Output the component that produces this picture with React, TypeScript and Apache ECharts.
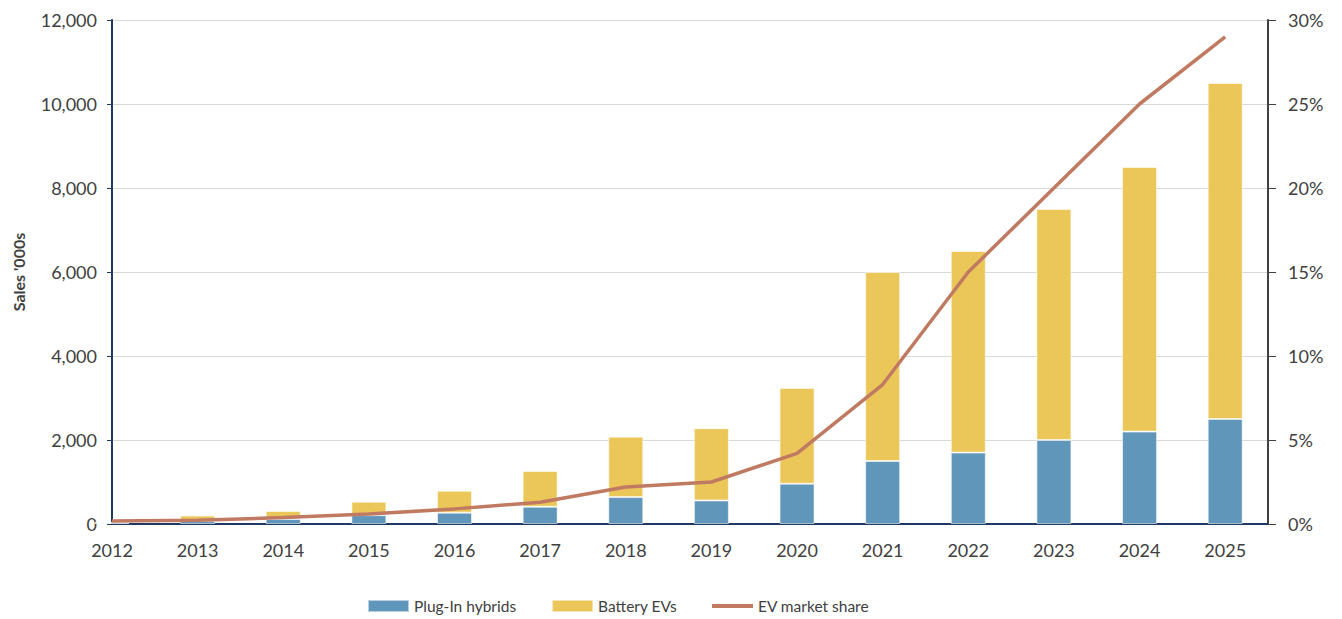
import React, { useEffect, useRef } from "react";
import * as echarts from "echarts";

// Annual EV sales (thousands) and EV share of new car sales
const years = [2012, 2013, 2014, 2015, 2016, 2017, 2018, 2019, 2020, 2021, 2022, 2023, 2024, 2025];
const plugInHybrids = [30, 70, 120, 210, 270, 410, 640, 560, 960, 1500, 1700, 2000, 2200, 2500];
const batteryEVs = [20, 130, 190, 320, 520, 850, 1440, 1720, 2280, 4500, 4800, 5500, 6300, 8000];
const marketShare = [0.18, 0.22, 0.38, 0.6, 0.9, 1.3, 2.2, 2.5, 4.2, 8.3, 15, 20, 25, 29];
const salesTicks = { min: 0, max: 12000, interval: 2000 };
const shareTicks = { min: 0, max: 30, interval: 5 };

const FONT = "Lato, 'Open Sans', sans-serif";
const TEXT = "#404040";
const NAVY = "#1F3864";
const LINE_ICON = "path://M0,0H41V4H0Z";

export default function App() {
  const ref = useRef<HTMLDivElement>(null);

  useEffect(() => {
    if (!ref.current) return;
    const chart = echarts.init(ref.current, undefined, { renderer: "svg" });
    // value first, year second, so the stack runs along the y dimension
    const pair = (vals: number[]) => vals.map((v, i) => [v, years[i]]);

    chart.setOption({
      animation: false,
      textStyle: { fontFamily: FONT },
      grid: { left: 112, right: 74, top: 20, bottom: 95 },
      legend: {
        bottom: 0,
        left: 362,
        itemWidth: 41,
        itemHeight: 12,
        itemGap: 35,
        textStyle: { color: TEXT, fontSize: 15.5, fontFamily: FONT },
        data: [
          { name: "Plug-In hybrids", icon: "rect" },
          { name: "Battery EVs", icon: "rect" },
          { name: "EV market share", icon: LINE_ICON },
        ],
      },
      xAxis: {
        type: "value",
        min: years[0],
        max: years[years.length - 1] + 0.5,
        interval: 1,
        axisLine: { show: true, lineStyle: { color: NAVY, width: 2 } },
        axisTick: { show: false },
        splitLine: { show: false },
        axisLabel: {
          color: TEXT,
          fontSize: 18,
          margin: 17,
          formatter: (v: number) => (Number.isInteger(v) ? String(v) : ""),
        },
      },
      yAxis: [
        {
          type: "value",
          ...salesTicks,
          name: "Sales '000s",
          nameLocation: "middle",
          nameRotate: 90,
          nameGap: 86,
          nameTextStyle: { color: TEXT, fontSize: 16, fontWeight: "bold", fontFamily: FONT },
          axisLine: { show: true, lineStyle: { color: NAVY, width: 2 } },
          axisTick: { show: true, length: 5, lineStyle: { color: NAVY } },
          splitLine: { lineStyle: { color: "#D9D9D9", width: 1 } },
          axisLabel: {
            color: TEXT,
            fontSize: 18,
            margin: 15,
            formatter: (v: number) => v.toLocaleString("en-US"),
          },
        },
        {
          type: "value",
          ...shareTicks,
          position: "right",
          axisLine: { show: true, lineStyle: { color: TEXT, width: 2 } },
          axisTick: { show: true, length: 8, lineStyle: { color: TEXT } },
          splitLine: { show: false },
          axisLabel: { color: TEXT, fontSize: 18, margin: 20, formatter: "{value}%" },
        },
      ],
      series: [
        {
          name: "Plug-In hybrids",
          type: "bar",
          stack: "sales",
          barWidth: 35,
          encode: { x: 1, y: 0 },
          data: pair(plugInHybrids),
          itemStyle: { color: "#6096BA", borderColor: "rgba(255,255,255,0.55)", borderWidth: 1 },
        },
        {
          name: "Battery EVs",
          type: "bar",
          stack: "sales",
          barWidth: 35,
          encode: { x: 1, y: 0 },
          data: pair(batteryEVs),
          itemStyle: { color: "#EBC75A", borderColor: "rgba(255,255,255,0.55)", borderWidth: 1 },
        },
        {
          name: "EV market share",
          type: "line",
          yAxisIndex: 1,
          symbol: "none",
          encode: { x: 1, y: 0 },
          data: pair(marketShare),
          lineStyle: { color: "#C07A62", width: 3.5 },
          itemStyle: { color: "#C07A62" },
          z: 5,
        },
      ],
    });

    return () => chart.dispose();
  }, []);

  return (
    <div
      ref={ref}
      style={{ position: "fixed", left: 0, top: 0, width: 1342, height: 619, background: "#fff" }}
    />
  );
}
